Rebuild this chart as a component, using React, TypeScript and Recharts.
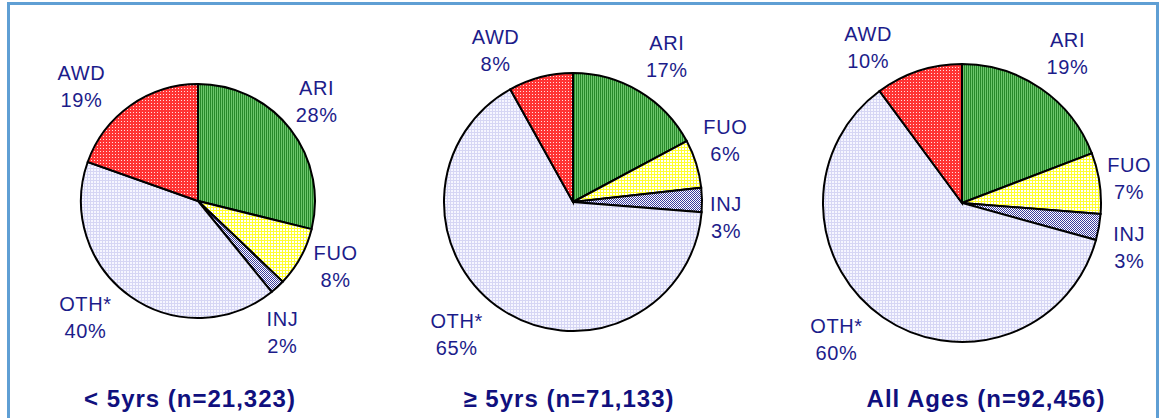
import React from 'react';
import { PieChart, Pie, Cell } from 'recharts';

const categories = ['ARI', 'FUO', 'INJ', 'OTH*', 'AWD'];
const under5Pct = [28, 8, 2, 40, 19];
const over5Pct = [17, 6, 3, 65, 8];
const allAgesPct = [19, 7, 3, 60, 10];
const panelTitles = ['< 5yrs (n=21,323)', '\u2265 5yrs (n=71,133)', 'All Ages (n=92,456)'];

const patternIds = ['patARI', 'patFUO', 'patINJ', 'patOTH', 'patAWD'];
const LABEL_COLOR = '#1c1c8a';
const TITLE_COLOR = '#10107e';
const FONT = 'Arial, "Liberation Sans", sans-serif';
const RAD = Math.PI / 180;

// panel geometry + manual label nudges (Excel labels were dragged by hand)
const panels = [
  { values: under5Pct, cx: 198, cy: 201, r: 117, titleX: 190,
    nudge: [[-5, -3], [0, -11], [-22, 16], [-22, -12], [-26, 13]] },
  { values: over5Pct, cx: 573, cy: 202, r: 129, titleX: 569,
    nudge: [[7, -1], [-9, -12], [-16, 18], [-25, -10], [-35, 12]] },
  { values: allAgesPct, cx: 962, cy: 203, r: 139, titleX: 986,
    nudge: [[4, -3], [-10, 0], [-9, 13], [-24, -11], [-38, 14]] },
];

const toData = (values: number[]) =>
  categories.map((name, i) => ({ name, value: values[i] }));

const Patterns = () => (
  <svg width={0} height={0} style={{ position: 'absolute' }}>
    <defs>
      <pattern id="patARI" width={2} height={2} patternUnits="userSpaceOnUse">
        <rect width={2} height={2} fill="#6cc66c" />
        <rect width={1} height={2} fill="#27882a" />
      </pattern>
      <pattern id="patFUO" width={3} height={3} patternUnits="userSpaceOnUse">
        <rect width={3} height={3} fill="#ffffff" />
        <rect width={3} height={1} fill="#ffff30" />
        <rect width={1} height={3} fill="#ffff30" />
      </pattern>
      <pattern id="patINJ" width={2} height={2} patternUnits="userSpaceOnUse">
        <rect width={2} height={2} fill="#ffffff" />
        <rect width={1} height={1} fill="#3a3a9c" />
        <rect x={1} y={1} width={1} height={1} fill="#3a3a9c" />
      </pattern>
      <pattern id="patOTH" width={3} height={3} patternUnits="userSpaceOnUse">
        <rect width={3} height={3} fill="#f6f6ff" />
        <rect width={3} height={1} fill="#d6d6f4" />
        <rect width={1} height={3} fill="#d6d6f4" />
      </pattern>
      <pattern id="patAWD" width={3} height={3} patternUnits="userSpaceOnUse">
        <rect width={3} height={3} fill="#ff3434" />
        <rect x={1} y={1} width={1} height={1} fill="#ffe0e0" />
      </pattern>
    </defs>
  </svg>
);

const makeLabel = (nudge: number[][], r: number) => (props: any) => {
  const { cx, cy, midAngle, index, name, value } = props;
  const R = r + 40;
  const x = cx + R * Math.cos(-midAngle * RAD) + nudge[index][0];
  const y = cy + R * Math.sin(-midAngle * RAD) + nudge[index][1];
  return (
    <text
      x={x}
      y={y}
      textAnchor="middle"
      fill={LABEL_COLOR}
      fontSize={20}
      fontFamily={FONT}
      letterSpacing={0.6}
    >
      <tspan x={x} y={y - 13} dominantBaseline="central">{name}</tspan>
      <tspan x={x} y={y + 14} dominantBaseline="central">{value}%</tspan>
    </text>
  );
};

export default function App() {
  return (
    <div style={{ position: 'fixed', top: 0, left: 0, width: 1159, height: 418, background: '#fff', overflow: 'hidden' }}>
      <Patterns />
      <div
        style={{
          position: 'absolute', left: 7, top: 2, width: 1146, height: 430,
          borderLeft: '3px solid #5f9fd4', borderTop: '3px solid #5f9fd4', borderRight: '3px solid #5f9fd4',
        }}
      />
      <div style={{ position: 'absolute', left: 0, top: 0 }}>
        <PieChart width={1159} height={418} margin={{ top: 0, right: 0, bottom: 0, left: 0 }}>
          {panels.map((p, k) => (
            <Pie
              key={k}
              data={toData(p.values)}
              dataKey="value"
              nameKey="name"
              cx={p.cx}
              cy={p.cy}
              outerRadius={p.r}
              startAngle={90}
              endAngle={-270}
              stroke="#000"
              strokeWidth={2}
              labelLine={false}
              label={makeLabel(p.nudge, p.r)}
              isAnimationActive={false}
            >
              {categories.map((c, i) => (
                <Cell key={c} fill={`url(#${patternIds[i]})`} />
              ))}
            </Pie>
          ))}
        </PieChart>
      </div>
      {panels.map((p, k) => (
        <div
          key={k}
          style={{
            position: 'absolute', left: p.titleX - 200, width: 400, top: 384,
            textAlign: 'center', fontFamily: FONT, fontWeight: 'bold', fontSize: 24,
            letterSpacing: 1, color: TITLE_COLOR, lineHeight: '30px',
          }}
        >
          {panelTitles[k]}
        </div>
      ))}
    </div>
  );
}
